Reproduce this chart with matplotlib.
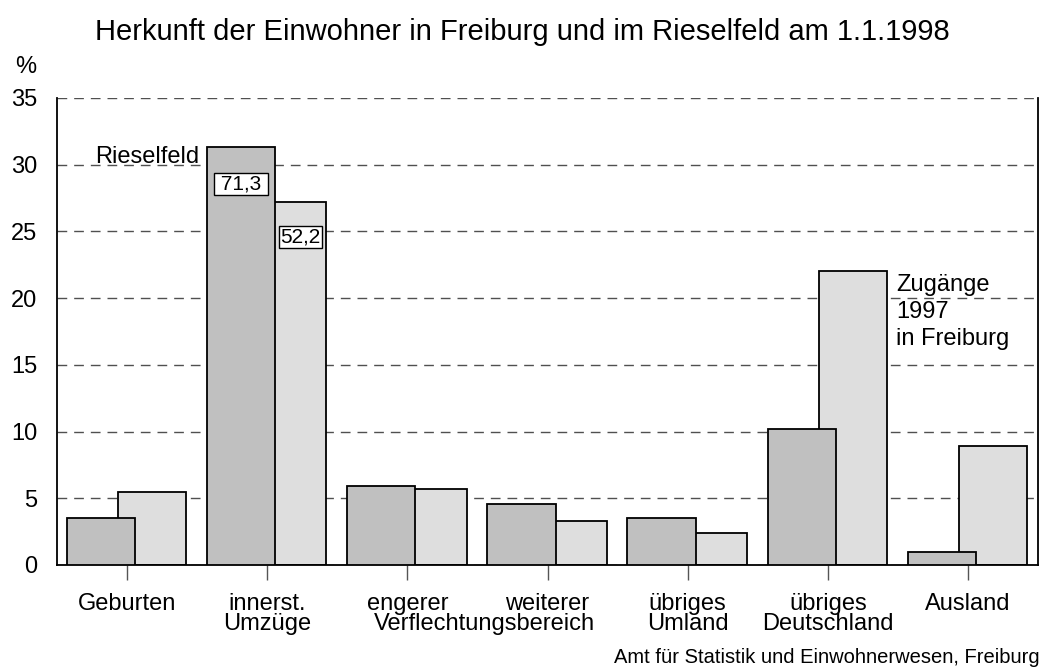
import numpy as np
import matplotlib
matplotlib.use("Agg")
import matplotlib.pyplot as plt

plt.rcParams["font.family"] = ["Liberation Sans", "DejaVu Sans"]

categories = ["Geburten", "innerst.\nUmzüge", "engerer", "weiterer",
              "übriges\nUmland", "übriges\nDeutschland", "Ausland"]
rieselfeld = [3.5, 31.3, 5.9, 4.6, 3.5, 10.2, 1.0]
freiburg = [5.5, 27.2, 5.7, 3.3, 2.4, 22.0, 8.9]
yticks = [0, 5, 10, 15, 20, 25, 30, 35]

dark = "#c0c0c0"
light = "#dedede"

fig = plt.figure(figsize=(10.52, 6.68), dpi=100)
ax = fig.add_axes([0.0542, 0.1542, 0.9325, 0.6991])

x = np.arange(len(categories))
w = 0.487
ax.bar(x + 0.179, freiburg, width=w, color=light, edgecolor="black",
       linewidth=1.3, zorder=2)
ax.bar(x - 0.186, rieselfeld, width=w, color=dark, edgecolor="black",
       linewidth=1.3, zorder=3)

ax.set_xlim(-0.5, 6.5)
ax.set_ylim(0, 35)
ax.set_yticks(yticks)
ax.set_yticklabels([str(v) for v in yticks], fontsize=17)
ax.yaxis.grid(True, linestyle=(0, (7, 5)), color="#505050", linewidth=1.0,
              zorder=1)
ax.set_axisbelow(True)
ax.tick_params(axis="y", length=0, pad=14)
ax.set_xticks(x)
ax.set_xticklabels(categories, fontsize=17, linespacing=0.92)
ax.tick_params(axis="x", direction="out", length=11, width=1, color="#555555",
               pad=9)

ax.spines["top"].set_visible(False)
for side in ["left", "right", "bottom"]:
    ax.spines[side].set_linewidth(1.3)

ax.text(2.55, -0.126, "Verflechtungsbereich", transform=ax.get_xaxis_transform(),
        ha="center", va="center", fontsize=17)

ax.text(0.515, 30.15, "Rieselfeld", ha="right", va="baseline", fontsize=17)

box = dict(boxstyle="square,pad=0.06", facecolor="white", edgecolor="black",
           linewidth=1.0)
ax.text(1 - 0.186, 28.55, " 71,3 ", ha="center", va="center", fontsize=15, bbox=box)
ax.text(1 + 0.235, 24.6, "52,2", ha="center", va="center", fontsize=15, bbox=box)

ax.text(5.49, 21.8, "Zugänge\n1997\nin Freiburg", ha="left", va="top",
        fontsize=17, linespacing=1.3)

fig.text(0.497, 0.952, "Herkunft der Einwohner in Freiburg und im Rieselfeld am 1.1.1998",
         ha="center", va="center", fontsize=21)
fig.text(0.024, 0.9, "%", ha="center", va="center", fontsize=17)
fig.text(0.988, 0.016, "Amt für Statistik und Einwohnerwesen, Freiburg",
         ha="right", va="center", fontsize=14.5)

fig.savefig("out.png", dpi=100)
